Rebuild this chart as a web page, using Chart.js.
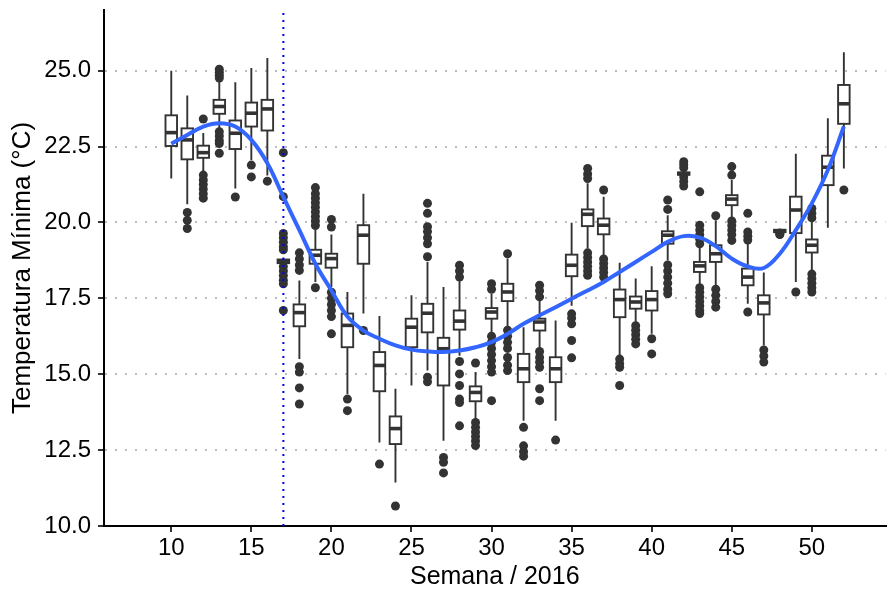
<!DOCTYPE html>
<html>
<head>
<meta charset="utf-8">
<script src="https://cdn.jsdelivr.net/npm/chart.js@4.4.1/dist/chart.umd.min.js"></script>
<style>
  body { margin: 0; background: #fff; }
</style>
</head>
<body>
<canvas id="chart" width="890" height="592"></canvas>
<script>
const weeks = [10, 11, 12, 13, 14, 15, 16, 17, 18, 19, 20, 21, 22, 23, 24, 25, 26, 27, 28, 29, 30,
    31, 32, 33, 34, 35, 36, 37, 38, 39, 40, 41, 42, 43, 44, 45, 46, 47, 48, 49, 50, 51, 52];

const whiskerLow = [21.45, 20.6, 21.67, 23.1, 21.12, 22.06, 21.55, 18.6, 15.5, 18.04, 17.87, 14.35, 17.0, 12.75, 11.43,
    14.63, 15.12, 12.81, 15.61, 13.52, 16.39, 16.55, 13.47, 15.84, 13.47, 17.26, 19.14, 18.92, 15.62, 16.72,
    16.33, 18.75, 21.55, 17.93, 17.87, 20.13, 17.32, 15.95, 19.65, 18.04, 18.42, 19.83, 21.78];
const q1 = [22.52, 22.08, 22.13, 23.58, 22.42, 23.16, 23.03, 18.66, 16.58, 18.64, 18.51, 15.89, 18.64, 14.44, 12.7,
    15.89, 16.38, 14.63, 16.47, 14.11, 16.83, 17.41, 14.74, 16.44, 14.74, 18.23, 19.88, 19.61, 16.88, 17.16,
    17.1, 19.3, 21.57, 18.37, 18.7, 20.57, 17.93, 16.97, 19.68, 19.65, 19.01, 21.23, 23.25];
const median = [22.96, 22.72, 22.3, 23.82, 22.94, 23.6, 23.74, 18.72, 17.03, 18.92, 18.81, 16.61, 19.58, 15.29, 13.21,
    16.55, 17.01, 15.84, 16.75, 14.4, 17.05, 17.71, 15.18, 16.72, 15.18, 18.59, 20.27, 19.91, 17.46, 17.38,
    17.46, 19.58, 21.61, 18.57, 18.97, 20.77, 18.2, 17.35, 19.72, 20.41, 19.25, 21.82, 23.91];
const q3 = [23.53, 23.1, 22.53, 24.04, 23.36, 23.95, 24.04, 18.78, 17.3, 19.1, 18.97, 17.0, 19.91, 15.73, 13.61,
    16.83, 17.32, 16.2, 17.1, 14.6, 17.18, 17.98, 15.67, 16.83, 15.56, 18.94, 20.43, 20.13, 17.79, 17.56,
    17.74, 19.71, 21.65, 18.7, 19.25, 20.9, 18.48, 17.6, 19.76, 20.85, 19.44, 22.2, 24.53];
const whiskerHigh = [25.0, 24.18, 22.95, 24.7, 24.62, 25.09, 25.42, 18.85, 18.09, 19.75, 19.6, 17.71, 20.95, 16.92, 14.52,
    17.6, 18.7, 17.87, 18.09, 15.07, 17.65, 18.81, 16.55, 17.49, 16.77, 19.99, 21.29, 20.85, 18.67, 18.15,
    18.56, 20.24, 21.7, 19.25, 20.07, 21.4, 19.36, 18.35, 19.78, 22.26, 20.02, 23.43, 25.61];

const outliers = [
    [],
    [20.33, 20.07, 19.8],
    [23.41, 21.56, 21.4, 21.25, 21.1, 20.95, 20.8],
    [25.05, 24.95, 24.85, 24.76, 22.99, 22.85, 22.7, 22.6, 22.28],
    [20.84],
    [21.89, 21.5],
    [21.36],
    [22.3, 20.85, 19.64, 19.5, 19.35, 19.2, 19.1, 18.55, 18.4, 18.25, 18.1, 17.98, 17.1],
    [19.0, 18.8, 18.6, 18.42, 15.25, 15.07, 14.55, 14.02],
    [21.15, 20.95, 20.8, 20.65, 20.5, 20.35, 20.2, 20.05, 19.9, 17.85],
    [20.1, 19.85, 17.7, 17.5, 17.3, 17.1, 16.9, 16.33],
    [14.18, 13.8],
    [16.44],
    [12.04],
    [10.66],
    [],
    [20.63, 20.3, 19.86, 19.7, 19.5, 19.3, 18.87, 14.9, 14.75],
    [12.26, 12.1, 11.75],
    [18.59, 18.4, 18.2, 15.42, 15.01, 14.63, 14.18, 14.07, 13.3],
    [15.37, 13.41, 13.25, 13.1, 12.95, 12.8, 12.65],
    [17.98, 17.8, 16.25, 16.05, 15.85, 15.65, 15.45, 15.25, 15.07, 14.13],
    [18.97, 16.45, 16.25, 16.05, 15.85, 15.55, 15.3, 15.12],
    [13.25, 12.64, 12.45, 12.3],
    [17.93, 17.75, 17.55, 15.75, 15.55, 15.4, 15.23, 14.52, 14.13],
    [12.83],
    [16.99, 16.85, 16.66, 16.11, 15.54],
    [21.78, 21.6, 21.45, 19.0, 18.85, 18.7, 18.55, 18.4, 18.26],
    [21.07, 18.8, 18.65, 18.5, 18.35, 18.2],
    [15.5, 15.35, 15.23, 14.63],
    [16.6, 16.45, 16.3, 16.15, 16.0],
    [16.17, 15.67],
    [20.74, 20.43, 18.6, 18.4, 18.2, 18.0, 17.8, 17.65],
    [22.0, 21.9, 21.8, 21.5, 21.35, 21.2],
    [21.01, 19.91, 19.75, 19.6, 19.45, 19.3, 17.85, 17.7, 17.55, 17.4, 17.25, 17.1, 17.0],
    [20.22, 17.8, 17.6, 17.4, 17.21],
    [21.84, 21.56, 20.05, 19.9, 19.75, 19.6, 19.41],
    [20.3, 19.69, 19.55, 19.42, 17.05],
    [15.8, 15.6, 15.4],
    [19.6, 19.62, 19.65],
    [17.71],
    [20.46, 20.3, 20.15, 18.3, 18.15, 18.0, 17.85, 17.71],
    [],
    [21.07]
];

// loess curve, one value per week
const smooth = [22.59, 22.88, 23.16, 23.27, 23.16, 22.72, 21.95, 20.84, 19.75, 18.64, 17.76, 16.9, 16.44, 16.17, 15.95,
    15.81, 15.75, 15.73, 15.78, 15.89, 16.06, 16.33, 16.66, 16.94, 17.21, 17.49, 17.76, 18.04, 18.37, 18.7,
    19.03, 19.36, 19.55, 19.5, 19.22, 18.81, 18.55, 18.5, 18.97, 19.75, 20.63, 21.73, 23.16];

const markerWeek = 17;
const xTicks = [10, 15, 20, 25, 30, 35, 40, 45, 50];
const yTicks = [10, 12.5, 15, 17.5, 20, 22.5, 25];

const FONT = "'Liberation Sans', Arial, sans-serif";

const outlierPoints = [];
weeks.forEach((w, i) => outliers[i].forEach(v => outlierPoints.push({ x: w, y: v })));

const boxPlugin = {
    id: 'boxes',
    afterDatasetDraw(chart, args) {
        if (args.index !== 2) return;
        const ctx = chart.ctx;
        const xs = chart.scales.x;
        const ys = chart.scales.y;
        ctx.save();
        ctx.strokeStyle = '#333333';
        weeks.forEach((w, i) => {
            const x = xs.getPixelForValue(w);
            const hw = xs.getPixelForValue(w + 0.36) - x;
            const yLo = ys.getPixelForValue(whiskerLow[i]);
            const yQ1 = ys.getPixelForValue(q1[i]);
            const yMed = ys.getPixelForValue(median[i]);
            const yQ3 = ys.getPixelForValue(q3[i]);
            const yHi = ys.getPixelForValue(whiskerHigh[i]);
            ctx.lineWidth = 1.9;
            ctx.beginPath();
            ctx.moveTo(x, yHi); ctx.lineTo(x, yQ3);
            ctx.moveTo(x, yQ1); ctx.lineTo(x, yLo);
            ctx.stroke();
            ctx.fillStyle = '#ffffff';
            ctx.fillRect(x - hw, yQ3, hw * 2, yQ1 - yQ3);
            ctx.strokeRect(x - hw, yQ3, hw * 2, yQ1 - yQ3);
            ctx.lineWidth = 3.6;
            ctx.beginPath();
            ctx.moveTo(x - hw, yMed); ctx.lineTo(x + hw, yMed);
            ctx.stroke();
        });
        ctx.restore();
    }
};

new Chart(document.getElementById('chart'), {
    type: 'scatter',
    data: {
        datasets: [{
            label: 'loess',
            data: weeks.map((w, i) => ({ x: w, y: smooth[i] })),
            showLine: true,
            borderColor: '#3366FF',
            borderWidth: 4,
            pointRadius: 0,
            tension: 0.4,
            order: 0
        }, {
            label: 'semana 17',
            data: [{ x: markerWeek, y: 10 }, { x: markerWeek, y: 27 }],
            showLine: true,
            borderColor: '#0000FF',
            borderWidth: 2,
            borderDash: [2, 5],
            pointRadius: 0,
            order: 1
        }, {
            label: 'outliers',
            data: outlierPoints,
            backgroundColor: '#333333',
            borderWidth: 0,
            pointRadius: 4.5,
            order: 2
        }]
    },
    options: {
        responsive: false,
        animation: false,
        layout: { padding: { left: 0, right: 2, top: 10, bottom: 0 } },
        plugins: { legend: { display: false }, tooltip: { enabled: false } },
        scales: {
            x: {
                type: 'linear',
                min: 5.8,
                max: 54.6,
                afterBuildTicks: s => { s.ticks = xTicks.map(v => ({ value: v })); },
                afterFit: s => { s.height = 66; s.paddingLeft = 0; s.paddingRight = 0; },
                grid: { drawOnChartArea: false, color: '#333333', lineWidth: 2, tickLength: 6 },
                border: { display: true, color: '#000000', width: 2 },
                ticks: { color: '#000000', padding: 2, maxRotation: 0, font: { family: FONT, size: 24 } },
                title: { display: true, text: 'Semana / 2016', color: '#000000', padding: { top: 0, bottom: 0 }, font: { family: FONT, size: 25 } }
            },
            y: {
                min: 10,
                max: 27,
                afterBuildTicks: s => { s.ticks = yTicks.map(v => ({ value: v })); },
                afterFit: s => { s.width = 104; s.paddingTop = 0; s.paddingBottom = 0; },
                grid: {
                    color: c => (c.tick && c.tick.value === 10) ? 'rgba(0,0,0,0)' : '#BDBDBD',
                    lineWidth: 2,
                    tickLength: 6,
                    tickColor: '#333333',
                    tickWidth: 2,
                    tickBorderDash: []
                },
                border: { display: true, color: '#000000', width: 2, dash: [2, 8] },
                ticks: { color: '#000000', padding: 7, font: { family: FONT, size: 24 }, callback: v => v.toFixed(1) },
                title: { display: true, text: 'Temperatura Mínima (°C)', color: '#000000', padding: { top: 7, bottom: 0 }, font: { family: FONT, size: 26 } }
            }
        }
    },
    plugins: [boxPlugin]
});
</script>
</body>
</html>
